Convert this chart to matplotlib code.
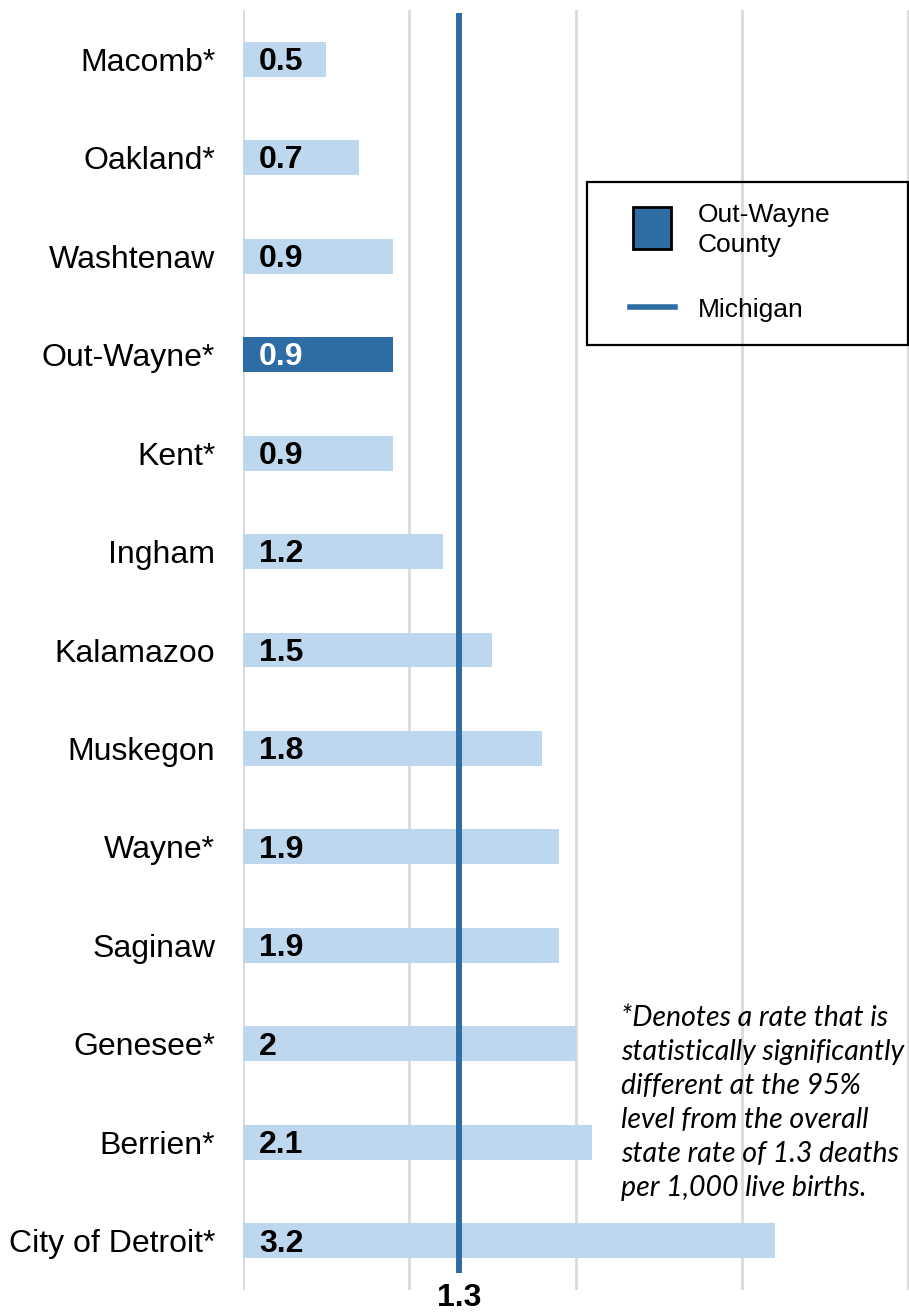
import matplotlib
matplotlib.use("Agg")
import matplotlib.pyplot as plt
from matplotlib.patches import Rectangle
from matplotlib.lines import Line2D

counties = ["Macomb*", "Oakland*", "Washtenaw", "Out-Wayne*", "Kent*", "Ingham",
            "Kalamazoo", "Muskegon", "Wayne*", "Saginaw", "Genesee*", "Berrien*",
            "City of Detroit*"]
rates = [0.5, 0.7, 0.9, 0.9, 0.9, 1.2, 1.5, 1.8, 1.9, 1.9, 2.0, 2.1, 3.2]
rate_labels = ["0.5", "0.7", "0.9", "0.9", "0.9", "1.2", "1.5", "1.8", "1.9", "1.9", "2", "2.1", "3.2"]
highlight = "Out-Wayne*"
michigan_rate = 1.3
michigan_label = "1.3"
legend_labels = ["Out-Wayne\nCounty", "Michigan"]
footnote = ("*Denotes a rate that is\nstatistically significantly\ndifferent at the 95%\n"
            "level from the overall\nstate rate of 1.3 deaths\nper 1,000 live births.")

LIGHT = "#BDD7EE"
DARK = "#2E6DA4"
GRID = "#D9D9D9"

plt.rcParams['font.family'] = ['Liberation Sans', 'DejaVu Sans']

W, H = 909, 1312
fig = plt.figure(figsize=(W / 100, H / 100), dpi=100)
ax = fig.add_axes([243 / W, (H - 1290) / H, 666 / W, 1280 / H])

ypos = list(range(len(counties)))
colors = [DARK if c == highlight else LIGHT for c in counties]
ax.barh(ypos, rates, height=0.355, color=colors, zorder=2)

ax.set_xlim(0, 4.006)
ax.set_ylim(12.5, -0.5)
for x in range(0, 5):
    ax.axvline(x, color=GRID, lw=2, zorder=1)

for s in ax.spines.values():
    s.set_visible(False)
ax.set_xticks([])
ax.set_yticks(ypos)
ax.set_yticklabels(counties, fontsize=23)
ax.tick_params(axis='y', length=0, pad=20)

for y, r, lab, c in zip(ypos, rates, rate_labels, counties):
    ax.annotate(lab, xy=(0, y), xytext=(11.5, -2), textcoords='offset points',
                ha='left', va='center', fontsize=23, fontweight='bold',
                color='white' if c == highlight else 'black', zorder=4)

ax.vlines(michigan_rate, -0.47, 12.33, color=DARK, lw=4.3, zorder=3)
fig.text(michigan_rate / 4.006 * 666 / W + 243 / W, 1 - 1283 / H, michigan_label,
         ha='center', va='top', fontsize=23, fontweight='bold')

# legend box
T = fig.transFigure
fig.add_artist(Rectangle((587 / W, 1 - 345 / H), 321 / W, 163 / H, fill=False,
                         ec='black', lw=1.6, transform=T, zorder=5))
fig.add_artist(Rectangle((633 / W, 1 - 249 / H), 38 / W, 42 / H, fc=DARK,
                         ec='black', lw=2, transform=T, zorder=6))
fig.add_artist(Line2D([630 / W, 675 / W], [1 - 307 / H] * 2, color=DARK, lw=4,
                      transform=T, zorder=6))
fig.text(698 / W, 1 - 230 / H, legend_labels[0], ha='left', va='center',
         fontsize=19, linespacing=1.3)
fig.text(698 / W, 1 - 310 / H, legend_labels[1], ha='left', va='center', fontsize=19)

fig.text(621 / W, 1 - 1005 / H, footnote, ha='left', va='top', fontsize=20.5,
         style='italic', family=['Lato', 'DejaVu Sans'], linespacing=1.38)

fig.savefig("out.png", dpi=100)
